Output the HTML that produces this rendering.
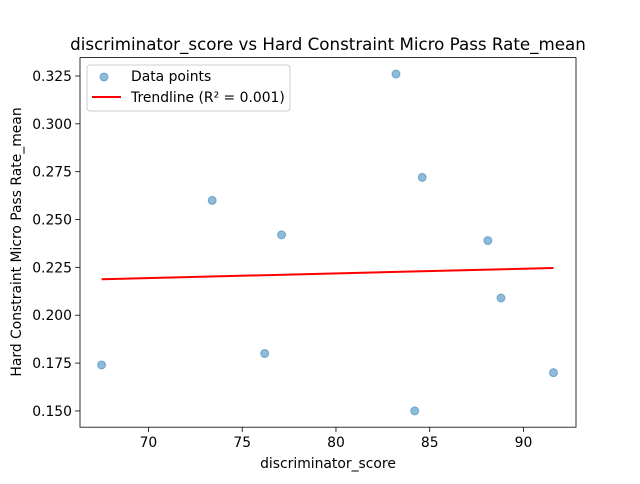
<!DOCTYPE html>
<html><head><meta charset="utf-8"><style>
body{margin:0;background:#fff;font-family:"DejaVu Sans","Liberation Sans",sans-serif}
</style></head><body>
<svg id="chart" width="640" height="480" xmlns="http://www.w3.org/2000/svg">
<rect width="640" height="480" fill="#fff"/>
</svg>
<script>
const xValues=[67.5,73.4,76.2,77.1,83.2,84.2,84.6,88.1,88.8,91.6];
const yValues=[0.174,0.260,0.180,0.242,0.326,0.150,0.272,0.239,0.209,0.170];
const xTicks=[70,75,80,85,90];
const yTicks=[0.150,0.175,0.200,0.225,0.250,0.275,0.300,0.325];
const L=80,R=576,T=57.6,B=427.2;
const xmin=66.35,xmax=92.8,ymin=0.1415,ymax=0.3346;
const sx=v=>L+(v-xmin)/(xmax-xmin)*(R-L);
const sy=v=>B-(v-ymin)/(ymax-ymin)*(B-T);
const NS="http://www.w3.org/2000/svg";
const svg=document.getElementById('chart');
function mk(t,a,p){const e=document.createElementNS(NS,t);for(const k in a)e.setAttribute(k,a[k]);(p||svg).appendChild(e);return e;}
xValues.forEach((x,i)=>{const c=mk('circle',{cx:sx(x),cy:sy(yValues[i]),r:4,fill:'#1f77b4','fill-opacity':0.5,stroke:'#1f77b4','stroke-opacity':0.5});

});
const n=xValues.length,mx=xValues.reduce((a,b)=>a+b)/n,my=yValues.reduce((a,b)=>a+b)/n;
let sxy=0,sxx=0;xValues.forEach((x,i)=>{sxy+=(x-mx)*(yValues[i]-my);sxx+=(x-mx)**2;});
const m=sxy/sxx,b=my-m*mx;
const x0=Math.min(...xValues),x1=Math.max(...xValues);
const tl=mk('line',{x1:sx(x0),y1:sy(m*x0+b),x2:sx(x1),y2:sy(m*x1+b),stroke:'red','stroke-width':2});


const fr=mk('rect',{x:L,y:T,width:R-L,height:B-T,fill:'none',stroke:'#000','stroke-width':0.8});


xTicks.forEach(t=>{mk('line',{x1:sx(t),x2:sx(t),y1:B,y2:B+4.9,stroke:'#000','stroke-width':0.8});
const tx=mk('text',{x:sx(t),y:B+20,'text-anchor':'middle','font-size':13.9,fill:'#000'});tx.textContent=t;

});
yTicks.forEach(t=>{mk('line',{x1:L-4.9,x2:L,y1:sy(t),y2:sy(t),stroke:'#000','stroke-width':0.8});
const tx=mk('text',{x:L-8,y:sy(t)+5,'text-anchor':'end','font-size':13.9,fill:'#000'});tx.textContent=t.toFixed(3);

});
</script>
<svg width="640" height="480" style="position:absolute;left:0;top:0" xmlns="http://www.w3.org/2000/svg">
<text x="328" y="50" text-anchor="middle" font-size="16.7">discriminator_score vs Hard Constraint Micro Pass Rate_mean</text>
<text x="328" y="468" text-anchor="middle" font-size="13.9">discriminator_score</text>
<text transform="translate(21,242) rotate(-90)" text-anchor="middle" font-size="13.9">Hard Constraint Micro Pass Rate_mean</text>
<g>
<rect x="87" y="65" width="203" height="46" rx="3" fill="#fff" fill-opacity="0.8" stroke="#ccc"/>
<circle cx="104" cy="77" r="4" fill="#1f77b4" fill-opacity="0.5" stroke="#1f77b4" stroke-opacity="0.5"/>
<text x="131" y="81" font-size="13.9">Data points</text>
<line x1="92" y1="97" x2="121" y2="97" stroke="red" stroke-width="2"/>
<text x="131" y="102" font-size="13.9">Trendline (R² = 0.001)</text>
</g>
</svg>
</body></html>
